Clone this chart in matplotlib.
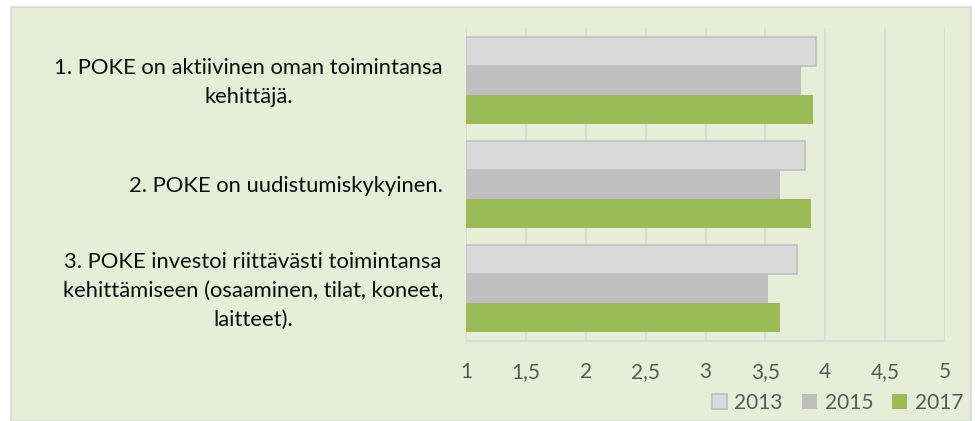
import matplotlib.pyplot as plt
from matplotlib.patches import Rectangle, Patch
import numpy as np

# data
categories = ["1. POKE on aktiivinen oman toimintansa\nkehittäjä.",
              "2. POKE on uudistumiskykyinen.",
              "3. POKE investoi riittävästi toimintansa\nkehittämiseen (osaaminen, tilat, koneet,\nlaitteet)."]
years = ["2013", "2015", "2017"]
v2013 = [3.92, 3.83, 3.76]
v2015 = [3.80, 3.62, 3.52]
v2017 = [3.90, 3.88, 3.62]
xticks = [1, 1.5, 2, 2.5, 3, 3.5, 4, 4.5, 5]
xticklabels = ["1", "1,5", "2", "2,5", "3", "3,5", "4", "4,5", "5"]

plt.rcParams['font.family'] = ['Lato', 'DejaVu Sans']

fig = plt.figure(figsize=(9.75, 4.21), dpi=100)
fig.patch.set_facecolor('white')
# light green chart area behind everything
fig.patches.append(Rectangle((11/975, 0), 960/975, 414/421, transform=fig.transFigure,
                             facecolor='#E6EED8', edgecolor='#D9D9D9', lw=1.2, zorder=-10))

ax = fig.add_axes([466/975, 80/421, 479/975, 313/421])
ax.set_facecolor('none')

y = np.arange(len(categories))
h = 0.278
ax.barh(y - h, [v - 1 for v in v2013], h, left=1, color='#D9D9D9', edgecolor='#BFBFBF', lw=1.2, zorder=3)
ax.barh(y, [v - 1 for v in v2015], h, left=1, color='#BFBFBF', edgecolor='none', zorder=3)
ax.barh(y + h, [v - 1 for v in v2017], h, left=1, color='#9BBB59', edgecolor='none', zorder=3)

ax.set_xlim(1, 5)
ax.set_ylim(2.5, -0.5)
ax.set_xticks(xticks)
ax.set_xticklabels(xticklabels)
ax.xaxis.grid(True, color='#D9D9D9', lw=1.5, zorder=0)
ax.set_axisbelow(True)
for s in ['top', 'right', 'left']:
    ax.spines[s].set_visible(False)
ax.spines['bottom'].set_color('#D9D9D9')
ax.spines['bottom'].set_linewidth(1.5)
ax.tick_params(axis='x', length=0, pad=15, labelsize=15, labelcolor='#595959')
ax.set_yticks([])

# category labels, centred lines, right edge a bit left of the axis
for yi, cat in zip(y, categories):
    ax.annotate(cat, xy=(0, yi), xycoords=('axes fraction', 'data'),
                xytext=(-23, -2), textcoords='offset pixels',
                ha='right', va='center', ma='center', linespacing=1.55,
                fontsize=15.8, color='#0D0D0D')

handles = [Patch(facecolor='#D9D9D9', edgecolor='#BFBFBF', lw=1.2),
           Patch(facecolor='#BFBFBF', edgecolor='none'),
           Patch(facecolor='#9BBB59', edgecolor='none')]
fig.legend(handles, years, loc='center right', bbox_to_anchor=(982/975, 1 - 403/421),
           ncol=3, frameon=False, fontsize=15, labelcolor='#595959',
           handlelength=0.75, handleheight=0.75, handletextpad=0.35, columnspacing=0.9)

fig.savefig('out.png', dpi=100)
